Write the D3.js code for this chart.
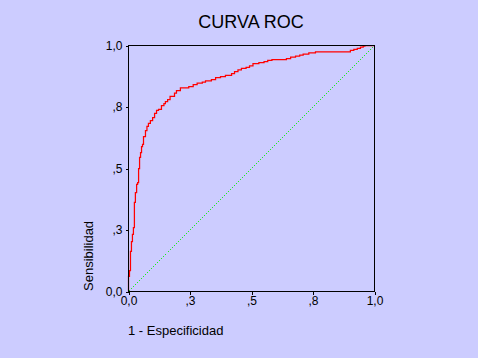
<!DOCTYPE html>
<html><head><meta charset="utf-8">
<script src="https://cdn.jsdelivr.net/npm/d3@7"></script>
<style>html,body{margin:0;padding:0;background:#CCCCFF;}svg{display:block;}</style>
</head><body>
<script>
const title = "CURVA ROC";
const xLabel = "1 - Especificidad";
const yLabel = "Sensibilidad";
const tickValues = [0, 0.25, 0.5, 0.75, 1.0];
const tickLabels = ["0,0", ",3", ",5", ",8", "1,0"];
const fpr = [0,0,0.004,0.008,0.012,0.016,0.020,0.024,0.028,0.033,0.037,0.041,0.045,0.049,0.053,0.057,0.061,0.069,0.075,0.081,0.089,0.098,0.106,0.114,0.122,0.134,0.144,0.150,0.159,0.169,0.187,0.195,0.211,0.245,0.263,0.279,0.300,0.313,0.337,0.354,0.374,0.394,0.419,0.431,0.445,0.459,0.478,0.492,0.506,0.530,0.551,0.566,0.583,0.642,0.659,0.679,0.696,0.710,0.733,0.760,0.902,0.916,0.930,0.943,0.954,0.961,1.0];
const tpr = [0,0.061,0.085,0.163,0.203,0.232,0.260,0.362,0.402,0.435,0.443,0.500,0.545,0.565,0.589,0.598,0.630,0.654,0.671,0.683,0.695,0.707,0.724,0.736,0.740,0.756,0.764,0.772,0.780,0.793,0.806,0.817,0.828,0.833,0.841,0.847,0.851,0.856,0.861,0.869,0.873,0.879,0.886,0.894,0.901,0.907,0.911,0.917,0.926,0.930,0.934,0.940,0.943,0.947,0.953,0.957,0.961,0.965,0.970,0.974,0.980,0.984,0.988,0.993,0.997,1.0,1.0];
const refLine = [[0,0],[1,1]];

const W = 478, H = 358;
const L = 128.5, T = 45.5, S = 246;
const svg = d3.select("body").append("svg").attr("width", W).attr("height", H)
  .style("font-family", "'Liberation Sans', Arial, sans-serif");
svg.append("rect").attr("width", W).attr("height", H).attr("fill", "#CCCCFF");

const x = d3.scaleLinear().domain([0,1]).range([L, L+S]);
const y = d3.scaleLinear().domain([0,1]).range([T+S, T]);

svg.append("text").attr("x", 251).attr("y", 28).attr("text-anchor","middle")
  .attr("font-size", 18).attr("fill","#000").text(title);

// reference diagonal
svg.append("path").datum(refLine)
  .attr("d", d3.line().x(d=>x(d[0])).y(d=>y(d[1])))
  .attr("stroke", "#22EE22").attr("stroke-width", 1).attr("stroke-dasharray","1.414,1.414")
  .attr("shape-rendering","crispEdges").attr("fill","none");

// ROC curve
const pts = fpr.map((f,i)=>[f,tpr[i]]);
svg.append("path").datum(pts)
  .attr("d", d3.line().x(d=>x(d[0])).y(d=>y(d[1])).curve(d3.curveStepAfter))
  .attr("stroke", "#FF0000").attr("stroke-width", 1.25).attr("fill","none");

// frame
svg.append("rect").attr("x", L).attr("y", T).attr("width", S).attr("height", S)
  .attr("fill","none").attr("stroke","#000").attr("stroke-width",1).attr("shape-rendering","crispEdges");

const xAxis = d3.axisBottom(x).tickValues(tickValues).tickFormat((d,i)=>tickLabels[i]).tickSize(3).tickPadding(2);
const gx = svg.append("g").attr("transform", `translate(0,${T+S})`).call(xAxis);
const yAxis = d3.axisLeft(y).tickValues(tickValues).tickFormat((d,i)=>tickLabels[i]).tickSize(3).tickPadding(3);
const gy = svg.append("g").attr("transform", `translate(${L},0)`).call(yAxis);
[gx, gy].forEach(g=>{
  g.select(".domain").remove();
  g.selectAll("line").attr("stroke","#000").attr("shape-rendering","crispEdges");
  g.selectAll("text").attr("font-size", 12).attr("fill","#000").attr("font-family","'Liberation Sans', Arial, sans-serif");
});

svg.append("text").attr("x", 128).attr("y", 335).attr("font-size", 13).attr("fill","#000").text(xLabel);
svg.append("text").attr("transform", "translate(93,291) rotate(-90)").attr("font-size", 13).attr("fill","#000").text(yLabel);
</script>
</body></html>
